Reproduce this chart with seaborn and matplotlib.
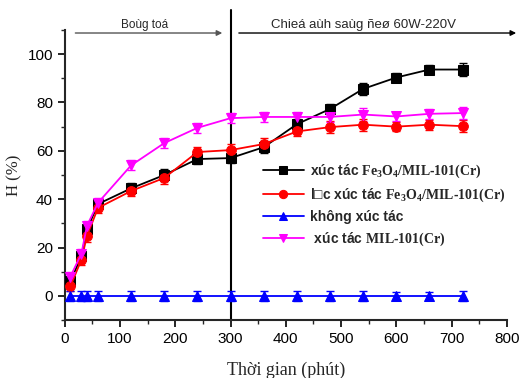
import matplotlib
matplotlib.use("Agg")
import matplotlib.pyplot as plt
import seaborn as sns
import pandas as pd

times = [10, 30, 40, 60, 120, 180, 240, 300, 360, 420, 480, 540, 600, 660, 720]
h_fe3o4 = [6, 16.5, 27.5, 38, 44.5, 50, 56.6, 57, 61.5, 71, 77.3, 85.6, 90.3, 93.6, 93.6]
e_fe3o4 = [2, 2, 2, 2, 2, 2.5, 2, 2, 2.5, 2, 2.2, 2.5, 2, 2, 2.5]
h_loc = [4, 15, 24.8, 36.4, 43.4, 48.8, 59.5, 60.3, 62.8, 68, 69.8, 70.8, 70, 70.8, 70.2]
e_loc = [2, 2, 2.5, 2, 2, 2.5, 2, 2.5, 2.5, 2, 2.5, 2.5, 2, 2, 2.5]
h_none = [0, 0, 0, 0, 0, 0, 0, 0, 0, 0, 0, 0, 0, 0, 0]
e_none = [2, 2, 2, 2, 2, 2, 2, 2, 2, 2, 2.2, 2, 1.5, 1.5, 2]
h_mil = [8, 17.5, 29, 38.5, 54, 63.2, 69.5, 73.5, 74, 74, 74, 75, 74.2, 75.3, 75.6]
e_mil = [2, 2, 2, 2, 2, 2, 2, 2, 2, 2, 2, 2.5, 2, 2, 2.5]

labels = [
    "xúc tác $\\mathrm{Fe_3O_4/MIL}$-$\\mathrm{101(Cr)}$",
    "l\u25a1c xúc tác $\\mathrm{Fe_3O_4/MIL}$-$\\mathrm{101(Cr)}$",
    "không xúc tác",
    " xúc tác $\\mathrm{MIL}$-$\\mathrm{101(Cr)}$",
]
colors = ["#000000", "#ff0000", "#0000ff", "#ff00ff"]
markers = ["s", "o", "^", "v"]
series = [h_fe3o4, h_loc, h_none, h_mil]
errors = [e_fe3o4, e_loc, e_none, e_mil]

sns.set_style("ticks")
plt.rcParams["font.family"] = ["Liberation Sans", "DejaVu Sans"]
plt.rcParams["mathtext.fontset"] = "custom"
plt.rcParams["mathtext.rm"] = "Liberation Serif:bold"
plt.rcParams["mathtext.it"] = "Liberation Serif:bold"
plt.rcParams["mathtext.bf"] = "Liberation Serif:bold"

fig = plt.figure(figsize=(5.23, 3.78), dpi=100)
ax = fig.add_axes([0.124, 0.153, 0.845, 0.768])

for y, e, lab, c, m in zip(series, errors, labels, colors, markers):
    df = pd.DataFrame({"t": times, "h": y})
    sns.lineplot(data=df, x="t", y="h", ax=ax, color=c, marker=m, markersize=7,
                 markeredgecolor=c, linewidth=1.3, label=lab, zorder=3)
    ax.errorbar(times, y, yerr=e, fmt="none", ecolor=c, elinewidth=1.0,
                capsize=3, capthick=1.0, zorder=2)

ax.set_xlim(0, 800)
ax.set_ylim(-10, 110)
ax.set_xticks(range(0, 801, 100))
ax.set_xticks(range(0, 801, 50), minor=True)
ax.set_yticks(range(0, 101, 20))
ax.set_yticks(range(-10, 111, 10), minor=True)
ax.tick_params(axis="both", which="major", direction="out", length=5, width=1.2,
               labelsize=11, colors="black")
ax.tick_params(axis="both", which="minor", direction="out", length=3, width=1.0)
for s in ["top", "right"]:
    ax.spines[s].set_visible(False)
for s in ["left", "bottom"]:
    ax.spines[s].set_linewidth(1.5)

ax.set_xlabel("Thời gian (phút)", family="Liberation Serif", fontsize=13, labelpad=11)
ax.set_ylabel("H (%)", family="Liberation Serif", fontsize=12, labelpad=4)

ax.axvline(300, ymin=0, ymax=1.07, color="black", linewidth=1.5, clip_on=False, zorder=1)

ax.annotate("", xy=(290, 108.7), xytext=(14, 108.7),
            arrowprops=dict(arrowstyle="-|>", color="#555555", lw=1.0, mutation_scale=8),
            annotation_clip=False)
ax.annotate("", xy=(822, 108.7), xytext=(310, 108.7),
            arrowprops=dict(arrowstyle="-|>", color="black", lw=1.0, mutation_scale=8),
            annotation_clip=False)
ax.text(145, 109.6, "Boùg toá", ha="center", va="bottom", fontsize=8.5, clip_on=False)
ax.text(541, 109.6, "Chieá aùh saùg ñeø 60W-220V", ha="center", va="bottom",
        fontsize=9.5, clip_on=False)

leg = ax.legend(loc="upper left", bbox_to_anchor=(0.435, 0.56), frameon=False,
                handlelength=3.0, handletextpad=0.4, labelspacing=0.45, borderaxespad=0,
                markerscale=0.85, prop={"weight": "bold", "size": 10})

fig.savefig("out.png", dpi=100)
